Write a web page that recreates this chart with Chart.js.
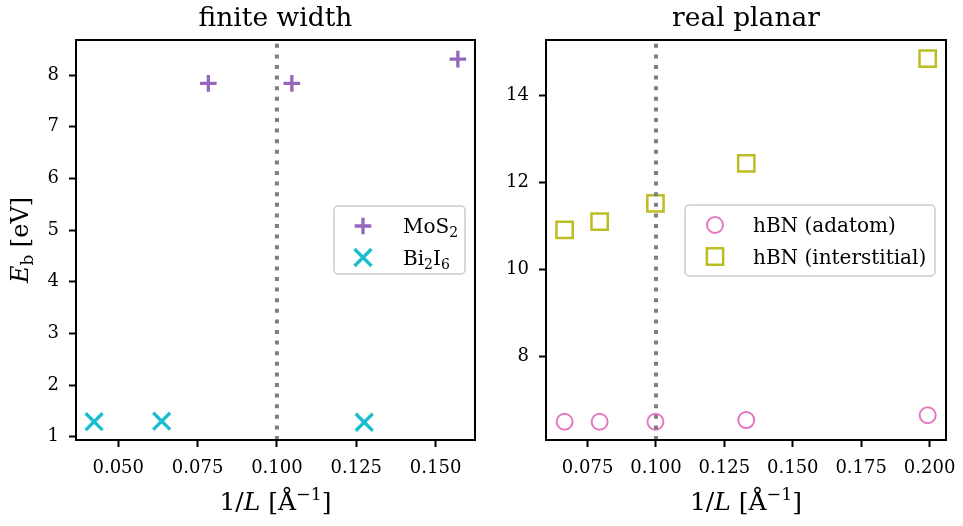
<!DOCTYPE html>
<html>
<head>
<meta charset="utf-8">
<script src="https://cdn.jsdelivr.net/npm/chart.js@4/dist/chart.umd.min.js"></script>
<style>
  body { margin: 0; background: #fff; }
  #wrap { position: relative; width: 963px; height: 526px; }
  canvas { position: absolute; top: 0; }
</style>
</head>
<body>
<div id="wrap">
  <canvas id="left" width="480" height="526" style="left:0"></canvas>
  <canvas id="right" width="483" height="526" style="left:480px"></canvas>
</div>
<script>
// finite width panel
const mosX = [0.0784, 0.1047, 0.1570];
const mosY = [7.84, 7.84, 8.31];
const biX = [0.0424, 0.0637, 0.1275];
const biY = [1.29, 1.30, 1.28];
const leftXTicks = [0.050, 0.075, 0.100, 0.125, 0.150];
const leftYTicks = [1, 2, 3, 4, 5, 6, 7, 8];

// real planar panel
const hbnX = [0.0666, 0.0794, 0.0998, 0.1330, 0.1993];
const adatomY = [6.49, 6.49, 6.49, 6.53, 6.64];
const interY = [10.91, 11.10, 11.52, 12.44, 14.85];
const rightXTicks = [0.075, 0.100, 0.125, 0.150, 0.175, 0.200];
const rightYTicks = [8, 10, 12, 14];

const SERIF = '"DejaVu Serif", serif';
const PURPLE = '#9467bd', CYAN = '#17becf', PINK = '#e377c2', OLIVE = '#bcbd22';

const pts = (xs, ys) => xs.map((x, i) => ({x: x, y: ys[i]}));

// draws text made of segments: {t, it, sub, sup}
function drawRich(ctx, segs, x, y, size, align) {
  const fontFor = s => {
    const sz = (s.sub || s.sup) ? size * 0.7 : size;
    return (s.it ? 'italic ' : '') + sz + 'px ' + SERIF;
  };
  let w = 0;
  segs.forEach(s => { ctx.font = fontFor(s); w += ctx.measureText(s.t).width; });
  let cx = align === 'center' ? x - w / 2 : x;
  ctx.textAlign = 'left';
  ctx.textBaseline = 'alphabetic';
  segs.forEach(s => {
    ctx.font = fontFor(s);
    let dy = 0;
    if (s.sub) dy = size * 0.22;
    if (s.sup) dy = -size * 0.42;
    ctx.fillText(s.t, cx, y + dy);
    cx += ctx.measureText(s.t).width;
  });
}

function drawMarker(ctx, style, x, y, r, color, lw) {
  ctx.save();
  ctx.strokeStyle = color;
  ctx.lineWidth = lw;
  ctx.beginPath();
  if (style === 'cross') {
    ctx.moveTo(x - r, y); ctx.lineTo(x + r, y);
    ctx.moveTo(x, y - r); ctx.lineTo(x, y + r);
  } else if (style === 'crossRot') {
    const d = r * Math.SQRT1_2;
    ctx.moveTo(x - d, y - d); ctx.lineTo(x + d, y + d);
    ctx.moveTo(x + d, y - d); ctx.lineTo(x - d, y + d);
  } else if (style === 'circle') {
    ctx.arc(x, y, r, 0, Math.PI * 2);
  } else if (style === 'rect') {
    const s = r * Math.SQRT1_2;
    ctx.rect(x - s, y - s, 2 * s, 2 * s);
  }
  ctx.stroke();
  ctx.restore();
}

const xLabel = [{t: '1/'}, {t: 'L', it: true}, {t: ' [Å'}, {t: '−1', sup: true}, {t: ']'}];
const yLabel = [{t: 'E', it: true}, {t: 'b', sub: true}, {t: ' [eV]'}];

const decor = {
  id: 'decor',
  afterDatasetsDraw(chart, args, o) {
    const {ctx, chartArea: a} = chart;
    const px = chart.scales.x.getPixelForValue(o.vline);
    ctx.save();
    ctx.beginPath();
    ctx.rect(a.left, a.top, a.right - a.left, a.bottom - a.top);
    ctx.clip();
    ctx.strokeStyle = '#7f7f7f';
    ctx.lineWidth = 4;
    ctx.setLineDash([4, 6.6]);
    ctx.beginPath();
    ctx.moveTo(px, a.bottom);
    ctx.lineTo(px, a.top);
    ctx.stroke();
    ctx.restore();
  },
  afterDraw(chart, args, o) {
    const {ctx, chartArea: a} = chart;
    ctx.save();
    // frame
    ctx.strokeStyle = '#000';
    ctx.lineWidth = 2;
    ctx.strokeRect(a.left, a.top, a.right - a.left, a.bottom - a.top);
    ctx.fillStyle = '#000';
    const cx = (a.left + a.right) / 2;
    drawRich(ctx, [{t: o.title}], cx, 26, 26.5, 'center');
    drawRich(ctx, xLabel, cx, 510, 25, 'center');
    if (o.ylabel) {
      ctx.save();
      ctx.translate(28, (a.top + a.bottom) / 2);
      ctx.rotate(-Math.PI / 2);
      drawRich(ctx, yLabel, 0, 0, 24, 'center');
      ctx.restore();
    }
    // legend
    const L = o.legend;
    ctx.beginPath();
    ctx.roundRect(L.x, L.y, L.w, L.h, 4);
    ctx.fillStyle = 'rgba(255,255,255,0.8)';
    ctx.fill();
    ctx.strokeStyle = '#cccccc';
    ctx.lineWidth = 1.5;
    ctx.stroke();
    chart.data.datasets.forEach((ds, i) => {
      const my = L.y + 20 + i * 31.5;
      drawMarker(ctx, ds.pointStyle, L.mx, my, ds.pointRadius, ds.borderColor, ds.borderWidth);
      ctx.fillStyle = '#000';
      drawRich(ctx, ds.rich, L.tx, my + 7, 20, 'left');
    });
    ctx.restore();
  }
};

function makeChart(id, datasets, xr, yr, xt, yt, area, W, plug) {
  const tickFont = {family: SERIF, size: 18};
  return new Chart(document.getElementById(id), {
    type: 'scatter',
    data: {datasets: datasets},
    options: {
      responsive: false,
      animation: false,
      events: [],
      layout: {autoPadding: false, padding: {left: 0, top: area.top, right: W - area.right, bottom: 0}},
      plugins: {legend: {display: false}, tooltip: {enabled: false}, decor: plug},
      scales: {
        x: {
          type: 'linear', min: xr[0], max: xr[1],
          afterBuildTicks: s => { s.ticks = xt.map(v => ({value: v})); },
          afterFit: s => { s.height = 526 - area.bottom; s.paddingLeft = 0; s.paddingRight = 0; },
          ticks: {font: tickFont, color: '#000', padding: 11, maxRotation: 0,
                  callback: v => v.toFixed(3)},
          grid: {drawOnChartArea: false, drawTicks: true, tickLength: 7, tickWidth: 2, tickColor: '#000'},
          border: {display: false}
        },
        y: {
          type: 'linear', min: yr[0], max: yr[1],
          afterBuildTicks: s => { s.ticks = yt.map(v => ({value: v})); },
          afterFit: s => { s.width = area.left; s.paddingTop = 0; s.paddingBottom = 0; },
          ticks: {font: tickFont, color: '#000', padding: 10, callback: v => String(v)},
          grid: {drawOnChartArea: false, drawTicks: true, tickLength: 7, tickWidth: 2, tickColor: '#000'},
          border: {display: false}
        }
      }
    },
    plugins: [decor]
  });
}

makeChart('left', [
  {label: 'MoS2', rich: [{t: 'MoS'}, {t: '2', sub: true}], data: pts(mosX, mosY),
   pointStyle: 'cross', pointRadius: 8.3, borderWidth: 3.3, borderColor: PURPLE,
   backgroundColor: PURPLE, showLine: false, clip: false},
  {label: 'Bi2I6', rich: [{t: 'Bi'}, {t: '2', sub: true}, {t: 'I'}, {t: '6', sub: true}], data: pts(biX, biY),
   pointStyle: 'crossRot', pointRadius: 12, borderWidth: 3.3, borderColor: CYAN,
   backgroundColor: CYAN, showLine: false, clip: false}
], [0.0367, 0.1624], [0.936, 8.68], leftXTicks, leftYTicks,
  {left: 76, right: 475, top: 40, bottom: 440}, 480,
  {title: 'finite width', vline: 0.1, ylabel: true,
   legend: {x: 334, y: 206, w: 131, h: 68, mx: 363, tx: 403}});

makeChart('right', [
  {label: 'hBN (adatom)', rich: [{t: 'hBN (adatom)'}], data: pts(hbnX, adatomY),
   pointStyle: 'circle', pointRadius: 8, borderWidth: 2, borderColor: PINK,
   backgroundColor: 'rgba(0,0,0,0)', showLine: false, clip: false},
  {label: 'hBN (interstitial)', rich: [{t: 'hBN (interstitial)'}], data: pts(hbnX, interY),
   pointStyle: 'rect', pointRadius: 11.5, borderWidth: 2.5, borderColor: OLIVE,
   backgroundColor: 'rgba(0,0,0,0)', showLine: false, clip: false}
], [0.0598, 0.206], [6.07, 15.28], rightXTicks, rightYTicks,
  {left: 66, right: 466, top: 40, bottom: 440}, 483,
  {title: 'real planar', vline: 0.1, ylabel: false,
   legend: {x: 205, y: 205, w: 250, h: 71, mx: 235, tx: 273}});
</script>
</body>
</html>
